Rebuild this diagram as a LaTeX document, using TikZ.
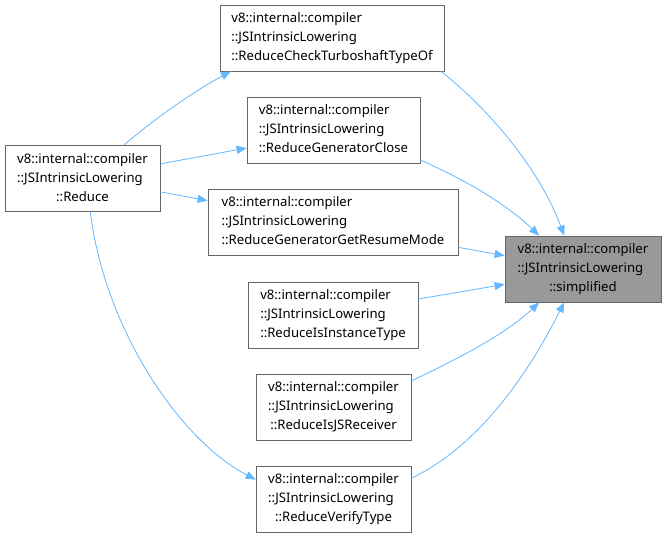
\documentclass[tikz,border=0pt]{standalone}
\usepackage{fontspec}
\setmainfont{Noto Sans}
\usetikzlibrary{arrows.meta,calc}
\definecolor{edgeblue}{HTML}{63B8FF}
\definecolor{boxline}{HTML}{666666}
\definecolor{hifill}{HTML}{999999}
\newcommand\dxlabel[1]{\begin{tabular}{@{}l@{}}v8::internal::compiler\\::JSIntrinsicLowering\\\multicolumn{1}{@{}c@{}}{::#1}\end{tabular}}
\tikzset{
  fn/.style={draw=boxline, line width=0.8bp, fill=white, inner sep=0pt, minimum height=66bp,
    font=\fontsize{13.2}{19}\selectfont, align=center},
  hi/.style={fn, fill=hifill},
  edge/.style={draw=edgeblue, line width=0.8bp, -{Triangle[length=10bp,width=8bp]}}
}
\begin{document}
\begin{tikzpicture}[x=1bp,y=-1bp]
\useasboundingbox[fill=white] (0,0) rectangle (665,538);
\node[fn, minimum width=155bp] (r) at (82.5,178.5) {\dxlabel{Reduce}};
\node[fn, minimum width=224bp] (c) at (332,38) {\dxlabel{ReduceCheckTurboshaftTypeOf}};
\node[fn, minimum width=173bp] (gc) at (333.5,130) {\dxlabel{ReduceGeneratorClose}};
\node[fn, minimum width=250bp] (gr) at (333,222) {\dxlabel{ReduceGeneratorGetResumeMode}};
\node[fn, minimum width=170bp] (it) at (333,315) {\dxlabel{ReduceIsInstanceType}};
\node[fn, minimum width=155bp] (js) at (333.5,407) {\dxlabel{ReduceIsJSReceiver}};
\node[fn, minimum width=155bp] (vt) at (333.5,499) {\dxlabel{ReduceVerifyType}};
\node[hi, minimum width=156bp] (s) at (583,269) {\dxlabel{simplified}};

% Reduce -> callees
\draw[edge] ($(r.north west)!0.766!(r.north east)$) .. controls (160,114) and (200,88) .. ($(c.south west)!0.05!(c.south east)$);
\draw[edge] ($(r.north east)!0.28!(r.south east)$) -- ($(gc.north west)!0.77!(gc.south west)$);
\draw[edge] ($(r.north east)!0.7!(r.south east)$) -- ($(gr.north west)!0.18!(gr.south west)$);
\draw[edge] ($(r.south west)!0.55!(r.south east)$) .. controls (105,330) and (180,440) .. ($(vt.north west)!0.21!(vt.south west)$);

% callees -> simplified
\draw[edge] ($(c.south west)!0.985!(c.south east)$) .. controls (490,110) and (540,170) .. ($(s.north west)!0.38!(s.north east)$);
\draw[edge] ($(gc.north east)!0.95!(gc.south east)$) .. controls (450,173) and (500,198) .. ($(s.north west)!0.22!(s.north east)$);
\draw[edge] ($(gr.north east)!0.88!(gr.south east)$) -- ($(s.north west)!0.3!(s.south west)$);
\draw[edge] ($(it.north east)!0.26!(it.south east)$) -- ($(s.north west)!0.73!(s.south west)$);
\draw[edge] ($(js.north east)!0.11!(js.south east)$) .. controls (455,360) and (505,335) .. ($(s.south west)!0.22!(s.south east)$);
\draw[edge] ($(vt.north east)!0.19!(vt.south east)$) .. controls (470,450) and (520,390) .. ($(s.south west)!0.38!(s.south east)$);
\end{tikzpicture}
\end{document}
